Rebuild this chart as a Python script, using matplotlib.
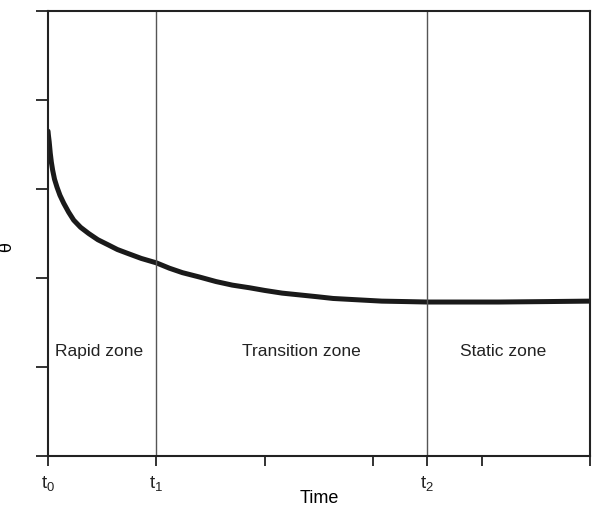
import matplotlib.pyplot as plt

plt.rcParams['font.family'] = ['Liberation Sans', 'DejaVu Sans']
plt.rcParams['mathtext.default'] = 'regular'

# curve (time, theta)
time = [0.0, 0.004, 0.011, 0.021, 0.031, 0.043, 0.06, 0.083, 0.11, 0.145, 0.19,
        0.237, 0.3, 0.375, 0.46, 0.559, 0.64, 0.727, 0.86, 1.0, 1.12, 1.24,
        1.4, 1.55, 1.7, 1.86, 2.0, 2.16, 2.32, 2.48, 2.63, 2.78, 2.93, 3.08,
        3.3, 3.5, 3.8, 4.16, 4.6, 4.99]
theta = [3.65, 3.6, 3.53, 3.4, 3.3, 3.21, 3.11, 3.02, 2.93, 2.84, 2.74,
         2.65, 2.57, 2.5, 2.43, 2.37, 2.32, 2.28, 2.22, 2.17, 2.11, 2.06,
         2.01, 1.96, 1.92, 1.89, 1.86, 1.83, 1.81, 1.79, 1.77, 1.76, 1.75, 1.74,
         1.735, 1.73, 1.73, 1.73, 1.735, 1.74]

t1 = 1.0
t2 = 3.5
zones = ["Rapid zone", "Transition zone", "Static zone"]
zone_x = [0.47, 2.34, 4.2]

xticks = [0, 1, 2, 3, 3.5, 4, 5]
xtick_labels = ["t$_0$", "t$_1$", "", "", "t$_2$", "", ""]

fig = plt.figure(figsize=(5.92, 5.12), dpi=100)
ax = fig.add_axes([0.0811, 0.1094, 0.9155, 0.8691])

ax.plot(time, theta, color='#1a1a1a', lw=3.6, solid_capstyle='round',
        solid_joinstyle='round')
ax.axvline(t1, color='#555555', lw=1.0)
ax.axvline(t2, color='#555555', lw=1.0)

for name, zx in zip(zones, zone_x):
    ax.text(zx, 1.17, name, ha='center', va='center', fontsize=12.5, color='#222222')

ax.set_xlim(0, 5)
ax.set_ylim(0, 5)
ax.set_xticks(xticks)
ax.set_xticklabels(xtick_labels, fontsize=13.5)
ax.set_yticks([0, 1, 2, 3, 4, 5])
ax.set_yticklabels([])
ax.tick_params(axis='x', direction='out', length=7, width=1.3, pad=6, colors='#222222')
ax.tick_params(axis='y', direction='out', length=9, width=1.3, colors='#222222')
for s in ax.spines.values():
    s.set_linewidth(1.5)
    s.set_color('#222222')

ax.set_xlabel("Time", fontsize=13, labelpad=-2)
ax.set_ylabel("θ", fontsize=13, rotation=90)
ax.yaxis.set_label_coords(-0.06, 0.47)

fig.savefig("out.png", dpi=100)
